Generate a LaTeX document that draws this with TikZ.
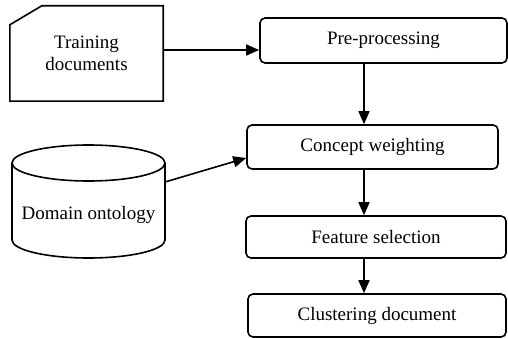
\documentclass[tikz,border=0pt]{standalone}
\usepackage{fontspec}
\setmainfont{Liberation Serif}
\newfontfamily\tms{Liberation Serif}
\usetikzlibrary{arrows.meta}
\begin{document}
\begin{tikzpicture}[x=1pt,y=-1pt,
  every node/.style={font=\tms\fontsize{19}{21.5}\selectfont},
  proc/.style={draw,rounded corners=5pt,line width=1.6pt,inner sep=0pt},
  arr/.style={line width=1.6pt,-{Triangle[length=13pt,width=11pt]}},
  shp/.style={line width=1.6pt}]
\useasboundingbox (0,0) rectangle (508,339);
% training documents card
\node[minimum width=153pt,minimum height=95pt,inner sep=0pt,align=center]
  (train) at (86.5,53.5) {Training\\documents};
\draw[shp] (train.north west) ++(0,19) -- ++(32,-19) -- (train.north east)
  -- (train.south east) -- (train.south west) -- cycle;
% domain ontology cylinder
\draw[shp] (88.5,163) ellipse [x radius=76.5, y radius=18];
\draw[shp] (12,163) -- (12,240) arc[start angle=180,end angle=360,x radius=76.5,y radius=-18] -- (165,163);
\node (dom) at (88.5,215) {Domain ontology};
\coordinate (domout) at (165,182);
% process boxes
\node[proc,minimum width=247pt,minimum height=45pt] (pre) at (383.5,40.5) {Pre-processing};
\node[proc,minimum width=251pt,minimum height=44pt] (concept) at (372.5,147) {Concept weighting};
\node[proc,minimum width=260pt,minimum height=42pt] (feat) at (376,237) {Feature selection};
\node[proc,minimum width=258pt,minimum height=43pt] (clus) at (377,315.5) {Clustering document};
\coordinate (ax) at (364,0);
\coordinate (ay) at (0,50);
\coordinate (cy) at (0,158);
% connectors
\draw[arr] (train.east |- ay) -- (pre.west |- ay);
\draw[arr] (domout) -- (concept.west |- cy);
\draw[arr] (pre.south -| ax) -- (concept.north -| ax);
\draw[arr] (concept.south -| ax) -- (feat.north -| ax);
\draw[arr] (feat.south -| ax) -- (clus.north -| ax);
\end{tikzpicture}
\end{document}
